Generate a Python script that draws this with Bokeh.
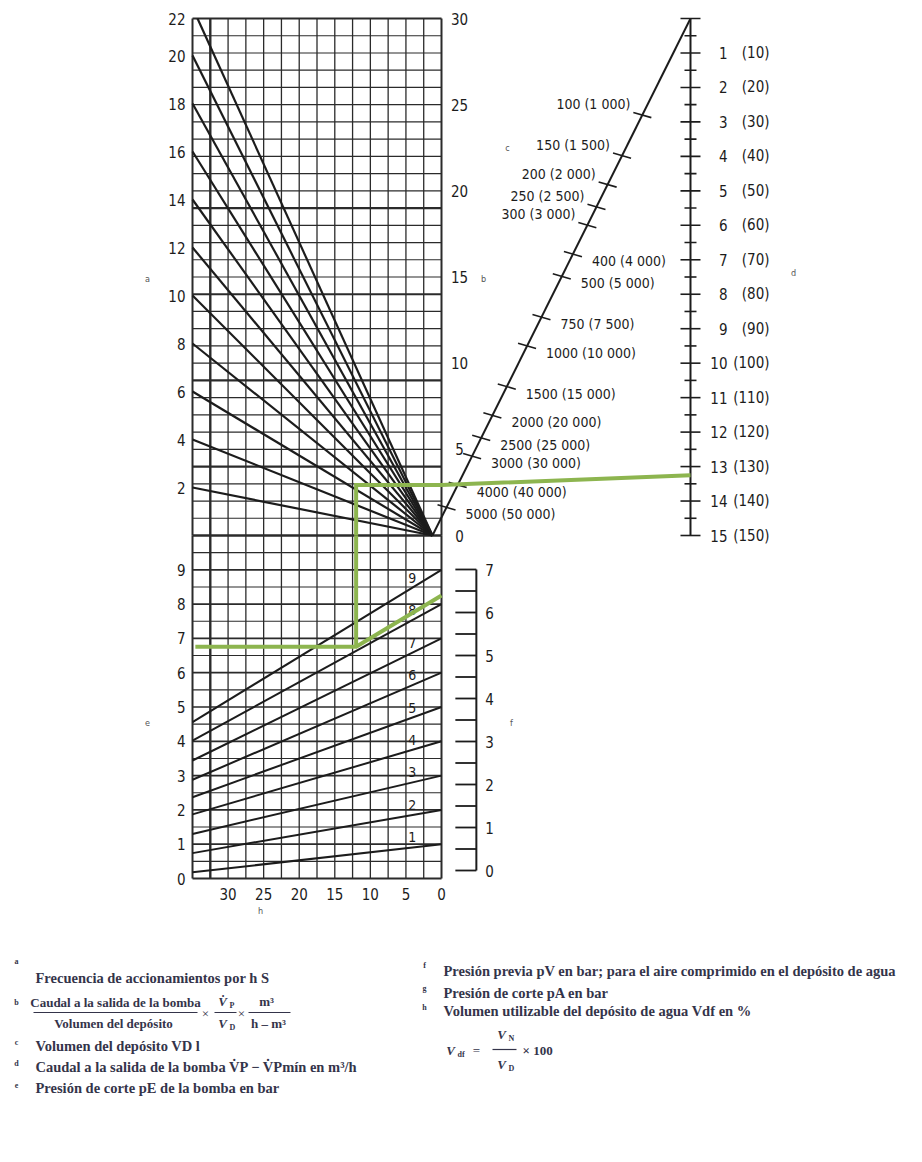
import math

from bokeh.core.properties import value
from bokeh.embed import file_html
from bokeh.layouts import column
from bokeh.models import Range1d
from bokeh.plotting import figure
from bokeh.resources import INLINE

# ---------------------------------------------------------------- data
# a: switching frequency per hour, one ray per value
freq_values = [2, 4, 6, 8, 10, 12, 14, 16, 18, 20, 22]
# b: pump flow / tank volume, scale on the right edge of the upper grid
ratio_ticks = [0, 5, 10, 15, 20, 25, 30]
# c: tank volume in litres (bracketed: tenfold flow scale)
volume_ticks = [100, 150, 200, 250, 300, 400, 500, 750, 1000, 1500,
                2000, 2500, 3000, 4000, 5000]
volume_labels = ["100 (1 000)", "150 (1 500)", "200 (2 000)", "250 (2 500)",
                 "300 (3 000)", "400 (4 000)", "500 (5 000)", "750 (7 500)",
                 "1000 (10 000)", "1500 (15 000)", "2000 (20 000)",
                 "2500 (25 000)", "3000 (30 000)", "4000 (40 000)",
                 "5000 (50 000)"]
# d: pump flow in m3/h
flow_ticks = list(range(1, 16))
flow_labels = ["(10)", "(20)", "(30)", "(40)", "(50)", "(60)", "(70)", "(80)",
               "(90)", "(100)", "(110)", "(120)", "(130)", "(140)", "(150)"]
# e: cut-in pressure in bar
cutin_ticks = [0, 1, 2, 3, 4, 5, 6, 7, 8, 9]
# g: cut-out pressure rays, e-value at h = 0 and at the left edge
cutout_values = [1, 2, 3, 4, 5, 6, 7, 8, 9]
cutout_left = [0.18, 0.74, 1.30, 1.87, 2.37, 2.88, 3.44, 4.02, 4.56]
# f: pre-charge pressure in bar
precharge_ticks = [0, 1, 2, 3, 4, 5, 6, 7]
# h: usable tank volume in %
usable_ticks = [0, 5, 10, 15, 20, 25, 30]
# worked example (green path)
example_usable = 12.0
example_cutin = 6.76
example_cutout = 8.25
example_ratio = 2.93
example_flow = 13.25

# ------------------------------------------------------------- layout
W, H_MAIN, H_NOTES = 922, 930, 232
X0_PX, H_PX = 441.0, 7.114      # column of h = 0, pixels per %
B0_PY, B_PX = 535.0, 17.233     # row of b = 0, pixels per unit
A_PX = 24.0                     # frequency scale shares the b = 0 row
E0_PY, E_PX = 878.0, 34.3
F0_PY, F_PX = 870.0, 43.0
D0_PY, D_PX = 18.0, 34.467      # flow scale runs downward

H_LEFT = 35.0
B_TOP = 30.0
E_TOP = 10.0
A_TOP = B_TOP * B_PX / A_PX
FAN_H0 = 1.27
F_AXIS_H = -4.9
D_AXIS_H = -35.0
D_MAX = 15.0

# volume scale: logarithmic along the diagonal
C_AT_1000 = 11.0
C_PER_DECADE = 13.4

INK = "#1c1c1c"
GRID = "#2b2b2b"
GREEN = "#8db54f"
FONT = value("DejaVu Sans Condensed, Liberation Sans Narrow, DejaVu Sans, sans-serif")
SERIF = value("Liberation Serif")
NOTE_INK = "#34344a"


def up_range(zero_py, ppu):
    return Range1d(start=(zero_py - H_MAIN) / ppu, end=zero_py / ppu)


def px_h(px):
    return (X0_PX - px) / H_PX


def py_b(py):
    return (B0_PY - py) / B_PX


p = figure(width=W, height=H_MAIN,
           x_range=Range1d(start=X0_PX / H_PX, end=(X0_PX - W) / H_PX),
           y_range=up_range(B0_PY, B_PX),
           x_axis_type=None, y_axis_type=None,
           output_backend="svg", toolbar_location=None,
           min_border=0, min_border_left=0, min_border_right=0,
           min_border_top=0, min_border_bottom=0)
p.extra_y_ranges = {
    "a": up_range(B0_PY, A_PX),
    "e": up_range(E0_PY, E_PX),
    "f": up_range(F0_PY, F_PX),
    "d": Range1d(start=(H_MAIN - D0_PY) / D_PX, end=-D0_PY / D_PX),
}
p.outline_line_color = None
p.background_fill_color = "white"
p.border_fill_color = "white"

# ---------------------------------------------------------------- grid
h_lines = [i * 2.5 for i in range(15)]
h_w = [2.0 if h in (0.0, H_LEFT) else 2.4 if h == 32.5 else 1.3 for h in h_lines]
n = len(h_lines)
p.segment(h_lines, [0] * n, h_lines, [B_TOP] * n, line_width=h_w, line_color=GRID)
p.segment(h_lines, [0] * n, h_lines, [E_TOP] * n, line_width=h_w, line_color=GRID,
          y_range_name="e")

b_lines = list(range(0, 31))
b_w = [2.4 if b == 0 else 2.0 if b == 30 else 2.2 if b in (4, 9, 14, 19) else 1.2
       for b in b_lines]
m = len(b_lines)
p.segment([0] * m, b_lines, [H_LEFT] * m, b_lines, line_width=b_w, line_color=GRID)

e_lines = [i * 0.5 for i in range(20)]
e_w = [2.0 if e == 0 else 1.7 if e == int(e) else 1.1 for e in e_lines]
k = len(e_lines)
p.segment([0] * k, e_lines, [H_LEFT] * k, e_lines, line_width=e_w, line_color=GRID,
          y_range_name="e")

# ------------------------------------------------------ frequency rays (a)
fan_x1, fan_y1 = [], []
for v in freq_values:
    if v <= A_TOP:
        fan_x1.append(H_LEFT)
        fan_y1.append(v)
    else:
        t = A_TOP / v
        fan_x1.append(FAN_H0 + (H_LEFT - FAN_H0) * t)
        fan_y1.append(A_TOP)
nf = len(freq_values)
p.segment([FAN_H0] * nf, [0] * nf, fan_x1, fan_y1, y_range_name="a",
          line_width=2.2, line_color=INK)

# ----------------------------------------------------- cut-out rays (g)
ng = len(cutout_values)
p.segment([0] * ng, cutout_values, [H_LEFT] * ng, cutout_left, y_range_name="e",
          line_width=2.0, line_color=INK)
lab_h = 4.1
lab_e = [v + (l - v) * lab_h / H_LEFT for v, l in zip(cutout_values, cutout_left)]
p.text([lab_h] * ng, lab_e, text=[str(v) for v in cutout_values], y_range_name="e",
       y_offset=-10, text_align="center", text_baseline="middle",
       text_font=FONT, text_font_size="14px", text_color=INK)

# ------------------------------------------------------------ scale texts
p.text([H_LEFT] * nf, [min(v, A_TOP) for v in freq_values],
       text=[str(v) for v in freq_values], y_range_name="a",
       x_offset=-7, text_align="right", text_baseline="middle",
       text_font=FONT, text_font_size="15px", text_color=INK)
p.text([H_LEFT] * len(cutin_ticks), cutin_ticks, text=[str(v) for v in cutin_ticks],
       y_range_name="e", x_offset=-7, text_align="right", text_baseline="middle",
       text_font=FONT, text_font_size="15px", text_color=INK)
p.text([0] * len(ratio_ticks), ratio_ticks, text=[str(v) for v in ratio_ticks],
       x_offset=18, text_align="center", text_baseline="middle",
       text_font=FONT, text_font_size="15px", text_color=INK)
p.text(usable_ticks, [0] * len(usable_ticks), text=[str(v) for v in usable_ticks],
       y_range_name="e", y_offset=15, text_align="center", text_baseline="middle",
       text_font=FONT, text_font_size="15px", text_color=INK)

# ------------------------------------------------------ volume scale (c)
p.segment([FAN_H0], [0], [D_AXIS_H], [B_TOP], line_width=2.0, line_color=INK)
c_b = [C_AT_1000 - C_PER_DECADE * math.log10(v / 1000.0) for v in volume_ticks]
c_h = [FAN_H0 + (D_AXIS_H - FAN_H0) * b / B_TOP for b in c_b]
tdh, tdb = 9.0 / H_PX, 2.6 / B_PX
p.segment([h + tdh for h in c_h], [b + tdb for b in c_b],
          [h - tdh for h in c_h], [b - tdb for b in c_b],
          line_width=1.6, line_color=INK)
left_i = [i for i, v in enumerate(volume_ticks) if v <= 300]
right_i = [i for i, v in enumerate(volume_ticks) if v > 300]
p.text([c_h[i] for i in left_i], [c_b[i] for i in left_i],
       text=[volume_labels[i] for i in left_i], x_offset=-12, y_offset=-11,
       text_align="right", text_baseline="middle",
       text_font=FONT, text_font_size="14px", text_color=INK)
p.text([c_h[i] for i in right_i], [c_b[i] for i in right_i],
       text=[volume_labels[i] for i in right_i], x_offset=19, y_offset=7,
       text_align="left", text_baseline="middle",
       text_font=FONT, text_font_size="14px", text_color=INK)

# -------------------------------------------------------- flow scale (d)
p.segment([D_AXIS_H], [0], [D_AXIS_H], [D_MAX], y_range_name="d",
          line_width=2.0, line_color=INK)
d_ticks = [i * 0.5 for i in range(31)]
d_len = [10.0 if t == int(t) else 6.0 for t in d_ticks]
p.segment([D_AXIS_H + L / H_PX for L in d_len], d_ticks,
          [D_AXIS_H - L / H_PX for L in d_len], d_ticks, y_range_name="d",
          line_width=1.6, line_color=INK)
p.text([D_AXIS_H] * len(flow_ticks), flow_ticks, text=[str(v) for v in flow_ticks],
       y_range_name="d", x_offset=37, text_align="right", text_baseline="middle",
       text_font=FONT, text_font_size="15px", text_color=INK)
p.text([D_AXIS_H] * len(flow_ticks), flow_ticks, text=flow_labels,
       y_range_name="d", x_offset=79, text_align="right", text_baseline="middle",
       text_font=FONT, text_font_size="15px", text_color=INK)

# --------------------------------------------------- pre-charge scale (f)
p.segment([F_AXIS_H], [0], [F_AXIS_H], [precharge_ticks[-1]], y_range_name="f",
          line_width=2.0, line_color=INK)
f_ticks = [i * 0.5 for i in range(15)]
p.segment([F_AXIS_H] * len(f_ticks), f_ticks,
          [F_AXIS_H + 21.0 / H_PX] * len(f_ticks), f_ticks, y_range_name="f",
          line_width=1.8, line_color=INK)
p.text([F_AXIS_H] * len(precharge_ticks), precharge_ticks,
       text=[str(v) for v in precharge_ticks], y_range_name="f",
       x_offset=9, text_align="left", text_baseline="middle",
       text_font=FONT, text_font_size="15px", text_color=INK)

# ----------------------------------------------------------- scale names
letters = [("a", 147, 278), ("b", 483, 278), ("c", 507, 147), ("d", 793, 272),
           ("e", 147, 722), ("f", 511, 722), ("h", 260, 910)]
p.text([px_h(x) for _, x, _ in letters], [py_b(y) for _, _, y in letters],
       text=[s for s, _, _ in letters], text_align="center", text_baseline="middle",
       text_font=FONT, text_font_size="9px", text_color="#555555")

# ------------------------------------------------------- worked example
p.line([H_LEFT - 0.4, example_usable, 0], [example_cutin, example_cutin, example_cutout],
       y_range_name="e", line_width=4, line_color=GREEN, line_join="miter")
p.line([example_usable, example_usable], [example_cutin, E_TOP], y_range_name="e",
       line_width=4, line_color=GREEN)
flow_as_b = B_TOP - example_flow * D_PX / B_PX
p.line([example_usable, example_usable, 0, D_AXIS_H],
       [0, example_ratio, example_ratio, flow_as_b],
       line_width=4, line_color=GREEN, line_join="miter")

# ------------------------------------------------------------- key below
q = figure(width=W, height=H_NOTES, x_range=Range1d(0, W), y_range=Range1d(H_NOTES, 0),
           x_axis_type=None, y_axis_type=None, output_backend="svg",
           toolbar_location=None, min_border=0, min_border_left=0,
           min_border_right=0, min_border_top=0, min_border_bottom=0)
q.outline_line_color = None
q.background_fill_color = "white"
q.border_fill_color = "white"

LINE_SIZE = "14.5px"
FRAC_SIZE = "13px"


def note(x, y, s, size=LINE_SIZE, style="bold", align="left"):
    q.text([x], [y], text=[s], text_font=SERIF, text_font_size=size,
           text_font_style=style, text_color=NOTE_INK, text_align=align,
           text_baseline="middle")


def bar(x0, x1, y):
    q.segment([x0], [y], [x1], [y], line_color=NOTE_INK, line_width=1.2)


markers = [("a", 16, 31), ("b", 16, 72), ("c", 16, 112), ("d", 16, 133), ("e", 16, 154),
           ("f", 424, 35), ("g", 424, 58), ("h", 424, 77)]
for s, x, y in markers:
    note(x, y, s, size="8px", align="center")

note(35, 47, "Frecuencia de accionamientos por h S")
note(115, 72, "Caudal a la salida de la bomba", size=FRAC_SIZE, align="center")
bar(33, 197, 82)
note(113, 93, "Volumen del depósito", size=FRAC_SIZE, align="center")
note(205, 83, "×", size=FRAC_SIZE, style="normal", align="center")
note(222, 71, "V̇", size=FRAC_SIZE, style="bold italic", align="center")
note(229, 75, "P", size="8px", align="left")
note(222, 93, "V", size=FRAC_SIZE, style="bold italic", align="center")
note(229, 97, "D", size="8px", align="left")
bar(214, 236, 82)
note(241, 83, "×", size=FRAC_SIZE, style="normal", align="center")
note(266, 71, "m³", size=FRAC_SIZE, align="center")
bar(248, 290, 82)
note(268, 93, "h – m³", size=FRAC_SIZE, align="center")
note(35, 115, "Volumen del depósito VD l")
note(35, 136, "Caudal a la salida de la bomba V̇P − V̇Pmín en m³/h")
note(35, 157, "Presión de corte pE de la bomba en bar")

note(443, 40, "Presión previa pV en bar; para el aire comprimido en el depósito de agua")
note(443, 62, "Presión de corte pA en bar")
note(443, 80, "Volumen utilizable del depósito de agua Vdf en %")
note(450, 120, "V", size=FRAC_SIZE, style="bold italic", align="center")
note(457, 124, "df", size="8px", align="left")
note(476, 120, "=", size=FRAC_SIZE, style="normal", align="center")
note(501, 104, "V", size=FRAC_SIZE, style="bold italic", align="center")
note(508, 108, "N", size="8px", align="left")
bar(492, 516, 119)
note(501, 134, "V", size=FRAC_SIZE, style="bold italic", align="center")
note(508, 138, "D", size="8px", align="left")
note(522, 120, "× 100", size=FRAC_SIZE, align="left")

layout = column(p, q, spacing=0)
open("out.html", "w").write(file_html(layout, INLINE))
